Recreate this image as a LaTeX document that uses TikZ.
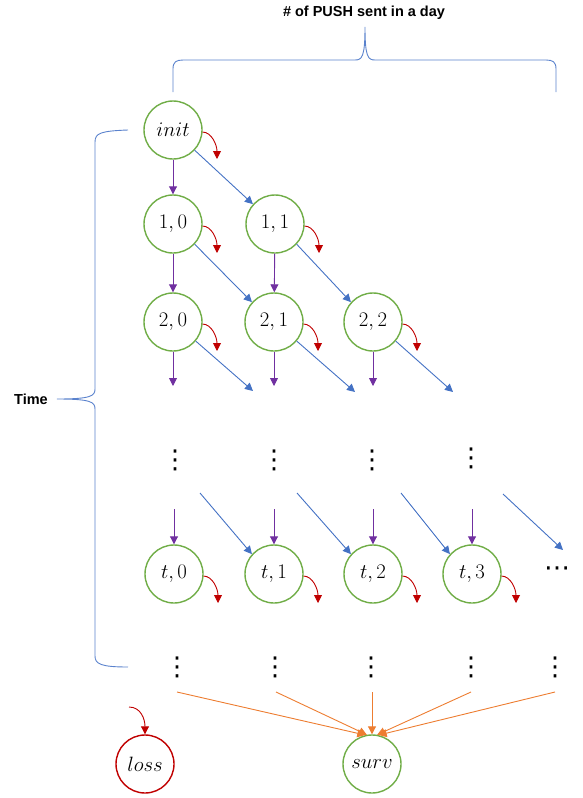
\documentclass[tikz,border=0pt]{standalone}
\usepackage{fontspec}
\setsansfont{Liberation Sans}
\newfontfamily\symf{DejaVu Sans}
\usetikzlibrary{arrows.meta}
\definecolor{cgreen}{RGB}{112,173,71}
\definecolor{cblue}{RGB}{68,114,196}
\definecolor{cpurple}{RGB}{112,48,160}
\definecolor{cred}{RGB}{192,0,0}
\definecolor{corange}{RGB}{237,125,49}
\definecolor{cbrace}{RGB}{90,130,205}
\begin{document}
\begin{tikzpicture}[x=1pt,y=-1pt,
  st/.style={circle,draw=cgreen,line width=1.4pt,minimum size=58pt,inner sep=0pt,font=\fontsize{22}{26}\selectfont},
  lossst/.style={st,draw=cred},
  vd/.style={font=\symf\fontsize{26}{28}\selectfont,inner sep=0pt},
  lab/.style={font=\sffamily\bfseries\fontsize{14.5}{17}\selectfont,inner sep=0pt},
  tip/.style={-{Triangle[width=8pt,length=8pt]}},
  parr/.style={tip,draw=cpurple,line width=0.9pt},
  barr/.style={tip,draw=cblue,line width=0.9pt},
  rarr/.style={tip,draw=cred,line width=0.9pt},
  oarr/.style={tip,draw=corange,line width=0.9pt},
  brc/.style={draw=cbrace,line width=0.9pt}]
\useasboundingbox (0,0) rectangle (582,798);
% labels
\node[lab] (title) at (364,13) {\# of PUSH sent in a day};
\node[lab] (time) at (31,399) {Time};
% braces
\draw[brc] (173,92) -- (173,69) .. controls (173,62) and (176,60) .. (183,60) -- (355,60)
  .. controls (362,60) and (365,57) .. (365,27)
  .. controls (365,57) and (368,60) .. (375,60) -- (546,60)
  .. controls (553,60) and (556,62) .. (556,69) -- (556,92);
\draw[brc] (128,130) .. controls (101,131) and (95,133) .. (95,142) -- (95,389)
  .. controls (95,396) and (91,399) .. (57,399)
  .. controls (91,399) and (95,402) .. (95,409) -- (95,656)
  .. controls (95,664) and (101,667) .. (128,667);
% nodes
\node[st] (init) at (173,130) {$init$};
\node[st] (n10) at (173,224) {$1,0$};
\node[st] (n11) at (275,224) {$1,1$};
\node[st] (n20) at (173,322) {$2,0$};
\node[st] (n21) at (274,322) {$2,1$};
\node[st] (n22) at (373,322) {$2,2$};
\node[st] (t0) at (174,574) {$t,0$};
\node[st] (t1) at (274,574) {$t,1$};
\node[st] (t2) at (373,574) {$t,2$};
\node[st] (t3) at (472,574) {$t,3$};
\node[vd] (tdots) at (557,572) {⋯};
\node[lossst] (loss) at (145,764) {$loss$};
\node[st] (surv) at (372,764) {$surv$};
% vertical dots
\node[vd] (d11) at (175,460) {⋮};
\node[vd] (d12) at (274,460) {⋮};
\node[vd] (d13) at (372,460) {⋮};
\node[vd] (d14) at (471,458) {⋮};
\node[vd] (d21) at (177,667) {⋮};
\node[vd] (d22) at (275,667) {⋮};
\node[vd] (d23) at (371,667) {⋮};
\node[vd] (d24) at (471,667) {⋮};
\node[vd] (d25) at (555,667) {⋮};
% purple arrows
\draw[parr] (init) -- (n10);
\draw[parr] (n10) -- (n20);
\draw[parr] (n11) -- (n21);
\coordinate (p0) at (173,386);
\coordinate (p1) at (274,386);
\coordinate (p2) at (373,386);
\draw[parr] (n20) -- (p0);
\draw[parr] (n21) -- (p1);
\draw[parr] (n22) -- (p2);
\coordinate (q0) at (174,509);
\coordinate (q1) at (274,509);
\coordinate (q2) at (373,509);
\coordinate (q3) at (472,509);
\draw[parr] (q0) -- (t0);
\draw[parr] (q1) -- (t1);
\draw[parr] (q2) -- (t2);
\draw[parr] (q3) -- (t3);
% blue arrows
\draw[barr] (init.-43) -- (n11.138);
\draw[barr] (n10.-43) -- (n21.138);
\draw[barr] (n11.-43) -- (n22.138);
\coordinate (b0) at (253,391);
\coordinate (b1) at (355,392);
\coordinate (b2) at (453,392);
\draw[barr] (n20.-40) -- (b0);
\draw[barr] (n21.-40) -- (b1);
\draw[barr] (n22.-40) -- (b2);
\coordinate (c1) at (200,493);
\coordinate (c2) at (297,493);
\coordinate (c3) at (401,493);
\coordinate (c4) at (503,494);
\coordinate (c5) at (563,550);
\draw[barr] (c1) -- (t1.138);
\draw[barr] (c2) -- (t2.138);
\draw[barr] (c3) -- (t3.138);
\draw[barr] (c4) -- (c5);
% red arrows
\foreach \n in {init,n10,n11,n20,n21,n22,t0,t1,t2,t3}{
  \draw[rarr] (\n.-4) .. controls +(9,0) and +(0,-14) .. ([shift={(44,29)}]\n.center);
}
\coordinate (lin) at (129,707);
\draw[rarr] (lin) .. controls +(12,0) and +(0,-15) .. (loss.north);
% orange arrows
\coordinate (o1) at (177,692);
\coordinate (o2) at (276,692);
\coordinate (o3) at (372,692);
\coordinate (o4) at (471,692);
\coordinate (o5) at (555,692);
\draw[oarr] (o1) -- (surv.103);
\draw[oarr] (o2) -- (surv.100);
\draw[oarr] (o3) -- (surv.north);
\draw[oarr] (o4) -- (surv.80);
\draw[oarr] (o5) -- (surv.77);
\end{tikzpicture}
\end{document}
